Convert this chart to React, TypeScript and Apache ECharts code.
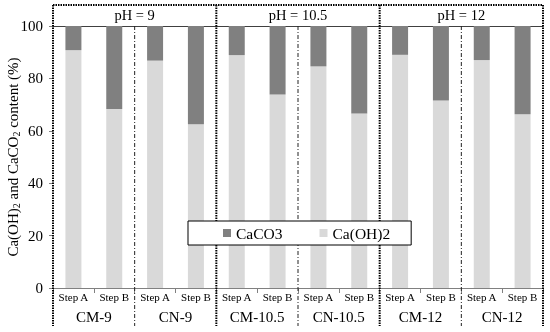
import React, { useEffect, useRef } from "react";
import * as echarts from "echarts";

const stepLabels = ["Step A", "Step B", "Step A", "Step B", "Step A", "Step B", "Step A", "Step B", "Step A", "Step B", "Step A", "Step B"];
const sampleLabels = ["CM-9", "CN-9", "CM-10.5", "CN-10.5", "CM-12", "CN-12"];
const phLabels = ["pH = 9", "pH = 10.5", "pH = 12"];
const caoh2 = [90.8, 68.3, 86.8, 62.5, 88.9, 73.9, 84.6, 66.6, 89.0, 71.6, 87.0, 66.3];
const caco3 = [9.2, 31.7, 13.2, 37.5, 11.1, 26.1, 15.4, 33.4, 11.0, 28.4, 13.0, 33.7];
const yTicks = [0, 20, 40, 60, 80, 100];
const yTitle = "Ca(OH){s|2} and CaCO{s|2} content (%)";

const FONT = '"Liberation Serif", "Times New Roman", serif';

export default function App() {
  const ref = useRef<HTMLDivElement>(null);
  useEffect(() => {
    document.body.style.margin = "0";
    const chart = echarts.init(ref.current!, undefined, { renderer: "svg" });
    const L = 53, R = 543, T = 26, B = 288, OT = 5, OB = 326;
    const W = R - L;
    const dotted = { stroke: "#000", lineWidth: 2, lineDash: [1.5, 1] };
    const dashDot = { stroke: "#222", lineWidth: 1, lineDash: [4, 2, 1, 2] };
    const graphics: any[] = [
      { type: "line", shape: { x1: L, y1: OT, x2: R, y2: OT }, style: dotted, z: 10 },
      { type: "line", shape: { x1: L, y1: OT, x2: L, y2: OB }, style: dotted, z: 10 },
      { type: "line", shape: { x1: R, y1: OT, x2: R, y2: OB }, style: dotted, z: 10 },
      {
        type: "text",
        x: 13,
        y: (T + B) / 2,
        rotation: Math.PI / 2,
        z: 10,
        style: {
          text: yTitle,
          fontSize: 15,
          fontFamily: FONT,
          fill: "#000",
          align: "center",
          verticalAlign: "middle",
          rich: {
            s: { fontSize: 10, fontFamily: FONT, fill: "#000", verticalAlign: "bottom", padding: [7, 0, 0, 0] },
          },
        },
      },
    ];
    for (let i = 1; i < 6; i++) {
      const x = L + (W * i) / 6;
      if (i % 2 === 0) {
        graphics.push({ type: "line", shape: { x1: x, y1: OT, x2: x, y2: OB }, style: dotted, z: 10 });
      } else {
        graphics.push({ type: "line", shape: { x1: x, y1: T, x2: x, y2: OB }, style: dashDot, z: 10 });
      }
    }
    chart.setOption({
      animation: false,
      textStyle: { fontFamily: FONT, color: "#000" },
      grid: { left: L, right: 550 - R, top: T, bottom: 332 - B, containLabel: false, outerBoundsMode: "none" },
      legend: {
        data: ["CaCO3", "Ca(OH)2"],
        left: 188,
        top: 221,
        orient: "horizontal",
        icon: "rect",
        itemWidth: 8,
        itemHeight: 8,
        itemGap: 37,
        padding: [4, 21, 4, 35],
        borderColor: "#000",
        borderWidth: 1,
        backgroundColor: "#fff",
        textStyle: { fontFamily: FONT, fontSize: 15.5, color: "#000" },
        z: 20,
      },
      xAxis: [
        {
          type: "category",
          data: stepLabels,
          position: "bottom",
          axisLine: { show: true, lineStyle: { color: "#808080", width: 1 } },
          axisTick: { show: true, interval: 0, length: 5, lineStyle: { color: "#808080" } },
          axisLabel: { interval: 0, fontSize: 11, margin: 3, color: "#000", fontFamily: FONT },
        },
        {
          type: "category",
          data: sampleLabels,
          position: "bottom",
          axisLine: { show: false },
          axisTick: { show: false },
          axisLabel: { interval: 0, fontSize: 15, margin: 21, color: "#000", fontFamily: FONT },
        },
        {
          type: "category",
          data: phLabels,
          position: "top",
          axisLine: { show: true, lineStyle: { color: "#404040", width: 1 } },
          axisTick: { show: false },
          axisLabel: { interval: 0, fontSize: 14.5, margin: 4, color: "#000", fontFamily: FONT },
        },
      ],
      yAxis: {
        type: "value",
        min: yTicks[0],
        max: yTicks[yTicks.length - 1],
        interval: 20,
        axisLine: { show: false },
        axisTick: { show: true, length: 4, lineStyle: { color: "#808080" } },
        splitLine: { show: false },
        axisLabel: { fontSize: 15, margin: 10, color: "#000", fontFamily: FONT },
      },
      series: [
        {
          name: "Ca(OH)2",
          type: "bar",
          stack: "total",
          data: caoh2,
          barWidth: 16,
          itemStyle: { color: "#d9d9d9" },
          xAxisIndex: 0,
        },
        {
          name: "CaCO3",
          type: "bar",
          stack: "total",
          data: caco3,
          barWidth: 16,
          itemStyle: { color: "#808080" },
          xAxisIndex: 0,
        },
      ],
      graphic: graphics,
    });
    return () => chart.dispose();
  }, []);
  return <div ref={ref} style={{ width: 550, height: 332, position: "fixed", left: 0, top: 0 }} />;
}
